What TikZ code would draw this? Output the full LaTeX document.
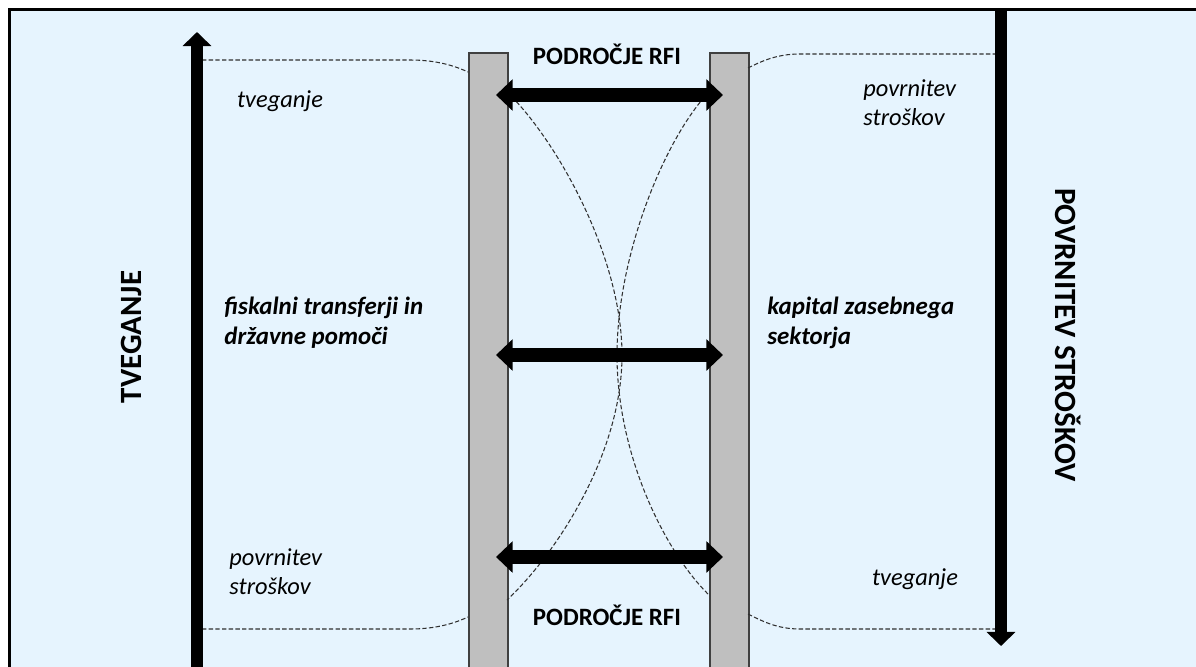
\documentclass[tikz,border=0pt]{standalone}
\usepackage{fontspec}
\setmainfont{Carlito}
\usetikzlibrary{arrows.meta}
\definecolor{bgblue}{HTML}{E6F4FE}
\definecolor{bargray}{HTML}{BFBFBF}
\definecolor{bardraw}{HTML}{404040}
\definecolor{dashcol}{HTML}{303030}
\tikzset{
  barbox/.style={draw=bardraw, fill=bargray, line width=0.9pt, minimum width=0.78cm, minimum height=13cm, anchor=north west, inner sep=0pt},
  bigarrow/.style={line width=6.8pt, -{Triangle[width=16pt,length=8pt]}},
  dblarrow/.style={line width=8.5pt, {Triangle[width=17.5pt,length=9.5pt]}-{Triangle[width=17.5pt,length=9.5pt]}},
  guide/.style={draw=dashcol, line width=0.6pt, dash pattern=on 2.5pt off 1.3pt},
  areatitle/.style={font=\bfseries\fontsize{14.2}{17}\selectfont, inner sep=0pt},
  axislabel/.style={font=\bfseries\fontsize{17.6}{21}\selectfont, inner sep=0pt},
  note/.style={font=\itshape\fontsize{13.9}{16.4}\selectfont, inner sep=0pt, align=left},
  mainnote/.style={font=\bfseries\itshape\fontsize{14.2}{17}\selectfont, inner sep=0pt, align=left}
}
\begin{document}
\begin{tikzpicture}[x=0.02cm,y=-0.02cm]
\useasboundingbox (0,0) rectangle (1196,666);
\fill[white] (0,0) rectangle (1196,666);
\begin{scope}
\clip (0,0) rectangle (1196,666);
\filldraw[fill=bgblue, draw=black, line width=2pt] (9.5,9.5) rectangle (1230,700);

% bars
\node[barbox] (lbar) at (468,52) {};
\node[barbox] (rbar) at (709,52) {};

% coordinates
\coordinate (lup0) at (197,720);
\coordinate (lup1) at (197,32);
\coordinate (rdn0) at (1001,9);
\coordinate (rdn1) at (1001,646);
\coordinate (a1l) at (496,95);  \coordinate (a1r) at (723,95);
\coordinate (a2l) at (496,355); \coordinate (a2r) at (723,355);
\coordinate (a3l) at (496,557); \coordinate (a3r) at (723,557);

% dashed guides
\coordinate (tl0) at (202,60);  \coordinate (tl1) at (410,60);  \coordinate (tl2) at (468,72);
\coordinate (tr0) at (748,68);  \coordinate (tr1) at (800,54);  \coordinate (tr2) at (995,54);
\coordinate (bl0) at (202,629); \coordinate (bl1) at (410,629); \coordinate (bl2) at (468,617);
\coordinate (br0) at (748,614); \coordinate (br1) at (800,629); \coordinate (br2) at (995,629);
\draw[guide] (tl0) -- (tl1) .. controls (437,60) and (455,66) .. (tl2);
\draw[guide] (tr0) .. controls (762,61) and (777,54) .. (tr1) -- (tr2);
\draw[guide] (bl0) -- (bl1) .. controls (437,629) and (455,623) .. (bl2);
\draw[guide] (br0) .. controls (762,621) and (777,629) .. (br1) -- (br2);

% crossing arcs
\coordinate (cl0) at (507,92);  \coordinate (clm) at (622,355); \coordinate (cl1) at (507,600);
\coordinate (cr0) at (709,92);  \coordinate (crm) at (617,355); \coordinate (cr1) at (709,595);
\draw[guide] (cl0) .. controls (555,138) and (622,255) .. (clm) .. controls (622,455) and (555,555) .. (cl1);
\draw[guide] (cr0) .. controls (665,138) and (617,255) .. (crm) .. controls (617,455) and (665,552) .. (cr1);

% arrows
\draw[bigarrow] (lup0) -- (lup1);
\draw[bigarrow] (rdn0) -- (rdn1);
\draw[dblarrow] (a1l) -- (a1r);
\draw[dblarrow] (a2l) -- (a2r);
\draw[dblarrow] (a3l) -- (a3r);
\end{scope}

% texts
\node[areatitle] (t1) at (607,54) {PODROČJE RFI};
\node[areatitle] (t2) at (607,615) {PODROČJE RFI};
\node[axislabel, rotate=90] (ax1) at (131,337) {TVEGANJE};
\node[axislabel, rotate=-90] (ax2) at (1068,335) {POVRNITEV STROŠKOV};
\node[note] (n1) at (280,101) {tveganje};
\node[note, anchor=west] (n2) at (863,103) {povrnitev\\stroškov};
\node[note, anchor=west] (n3) at (229,572) {povrnitev\\stroškov};
\node[note] (n4) at (915,579) {tveganje};
\node[mainnote, anchor=west] (m1) at (224,323) {fiskalni transferji in\\državne pomoči};
\node[mainnote, anchor=west] (m2) at (767,323) {kapital zasebnega\\sektorja};
\end{tikzpicture}
\end{document}
